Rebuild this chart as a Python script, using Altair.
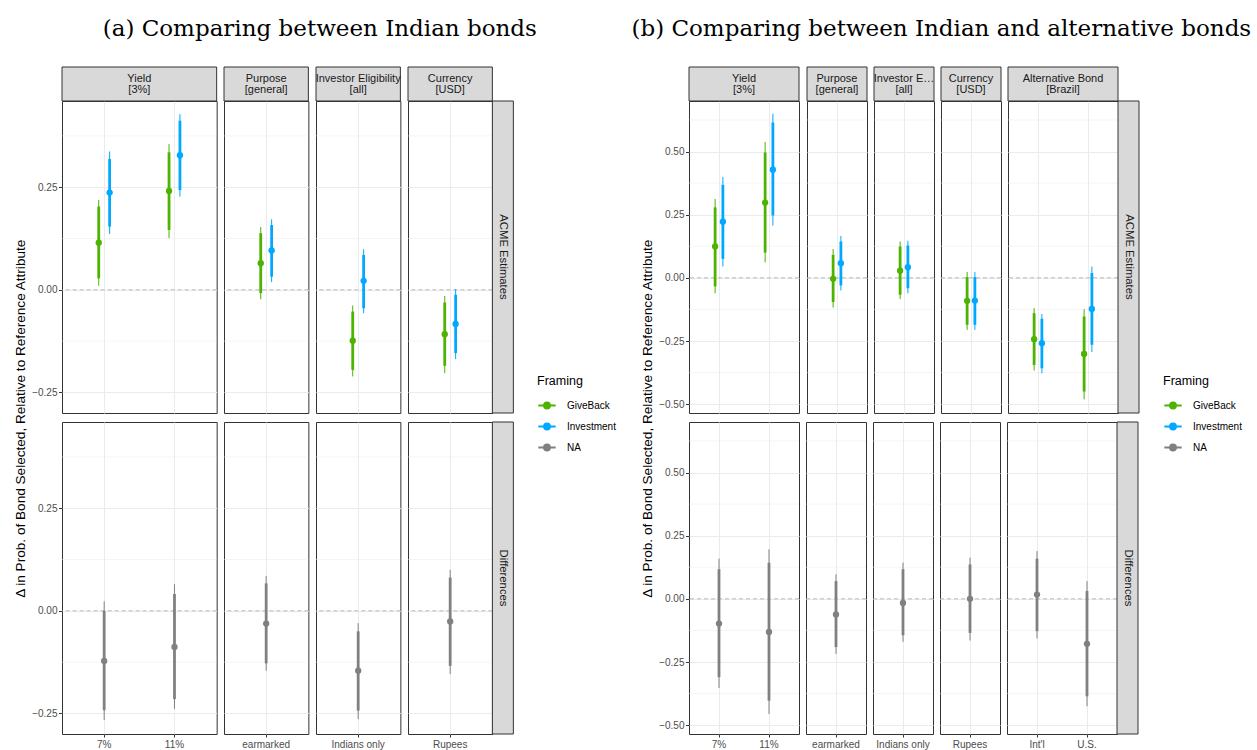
import altair as alt
import pandas as pd

# ------------------------------------------------------------------ data
FRAMINGS = ["GiveBack", "Investment", "NA"]
FRAMING_COLORS = ["#4DB200", "#00A9FF", "#808080"]
ROW_LABELS = ["ACME Estimates", "Differences"]
Y_TITLE = "Δ in Prob. of Bond Selected, Relative to Reference Attribute"

# (a) Comparing between Indian bonds
a_title = "(a) Comparing between Indian bonds"
a_attributes = ["Yield\n[3%]", "Purpose\n[general]", "Investor Eligibility\n[all]", "Currency\n[USD]"]
a_levels = [["7%", "11%"], ["earmarked"], ["Indians only"], ["Rupees"]]
a_gb_est = [0.115, 0.241, 0.065, -0.124, -0.108]
a_gb_lo95 = [0.010, 0.126, -0.023, -0.211, -0.203]
a_gb_hi95 = [0.219, 0.355, 0.153, -0.038, -0.015]
a_gb_lo90 = [0.028, 0.146, -0.008, -0.195, -0.185]
a_gb_hi90 = [0.203, 0.335, 0.138, -0.053, -0.031]
a_inv_est = [0.237, 0.328, 0.096, 0.022, -0.083]
a_inv_lo95 = [0.136, 0.227, 0.019, -0.057, -0.169]
a_inv_hi95 = [0.337, 0.428, 0.172, 0.099, 0.002]
a_inv_lo90 = [0.154, 0.243, 0.032, -0.045, -0.154]
a_inv_hi90 = [0.319, 0.412, 0.158, 0.085, -0.012]
a_diff_est = [-0.122, -0.088, -0.031, -0.146, -0.026]
a_diff_lo95 = [-0.266, -0.239, -0.146, -0.264, -0.154]
a_diff_hi95 = [0.023, 0.065, 0.085, -0.030, 0.100]
a_diff_lo90 = [-0.242, -0.215, -0.128, -0.243, -0.134]
a_diff_hi90 = [0.000, 0.041, 0.067, -0.050, 0.081]
a_y_domain = [-0.30, 0.46]
a_y_major = [-0.25, 0.0, 0.25]
a_y_minor = [-0.125, 0.125, 0.375]

# (b) Comparing between Indian and alternative bonds
b_title = "(b) Comparing between Indian and alternative bonds"
b_attributes = ["Yield\n[3%]", "Purpose\n[general]", "Investor Eligibility\n[all]",
                "Currency\n[USD]", "Alternative Bond\n[Brazil]"]
b_levels = [["7%", "11%"], ["earmarked"], ["Indians only"], ["Rupees"], ["Int'l", "U.S."]]
b_gb_est = [0.124, 0.298, -0.004, 0.028, -0.091, -0.243, -0.301]
b_gb_lo95 = [-0.061, 0.061, -0.118, -0.084, -0.206, -0.367, -0.481]
b_gb_hi95 = [0.312, 0.538, 0.114, 0.144, 0.023, -0.120, -0.124]
b_gb_lo90 = [-0.034, 0.100, -0.096, -0.067, -0.186, -0.345, -0.450]
b_gb_hi90 = [0.279, 0.496, 0.091, 0.124, 0.003, -0.140, -0.153]
b_inv_est = [0.222, 0.428, 0.058, 0.042, -0.090, -0.259, -0.123]
b_inv_lo95 = [0.045, 0.207, -0.050, -0.061, -0.206, -0.378, -0.294]
b_inv_hi95 = [0.399, 0.650, 0.166, 0.147, 0.023, -0.143, 0.045]
b_inv_lo90 = [0.075, 0.247, -0.030, -0.041, -0.186, -0.358, -0.265]
b_inv_hi90 = [0.368, 0.615, 0.144, 0.128, 0.003, -0.162, 0.019]
b_diff_est = [-0.098, -0.131, -0.062, -0.016, 0.000, 0.017, -0.178]
b_diff_lo95 = [-0.353, -0.456, -0.218, -0.170, -0.165, -0.157, -0.425]
b_diff_hi95 = [0.159, 0.196, 0.097, 0.143, 0.163, 0.189, 0.070]
b_diff_lo90 = [-0.310, -0.403, -0.191, -0.144, -0.135, -0.128, -0.386]
b_diff_hi90 = [0.117, 0.143, 0.070, 0.117, 0.136, 0.159, 0.031]
b_y_domain = [-0.535, 0.70]
b_y_major = [-0.50, -0.25, 0.0, 0.25, 0.50]
b_y_minor = [-0.375, -0.125, 0.125, 0.375, 0.625]

# ------------------------------------------------------------------ style
FONT = "Liberation Sans"
SERIF = "DejaVu Serif"
GRID = "#EBEBEB"
BORDER = "#333333"
STRIP_FILL = "#D9D9D9"
STRIP_H = 34
ROW_STRIP_W = 21
PANEL_H = 312
GAP_X = 5
GAP_Y = 7
DODGE = 0.155  # dodge separation as a fraction of one category step
LEG_PATH = ("M-1,0L1,0M-0.34,0A0.34,0.34,0,1,1,0.34,0A0.34,0.34,0,1,1,-0.34,0Z")


def build_frame(attributes, levels, series):
    flat = [(attr, lev) for attr, levs in zip(attributes, levels) for lev in levs]
    rows = []
    for row_label, framing, est, lo95, hi95, lo90, hi90 in series:
        for (attr, lev), e, l95, h95, l90, h90 in zip(flat, est, lo95, hi95, lo90, hi90):
            rows.append(dict(attr=attr, level=lev, row=row_label, Framing=framing,
                             est=e, lo95=l95, hi95=h95, lo90=l90, hi90=h90))
    return pd.DataFrame(rows)


def color_enc(legend_pos):
    return alt.Color(
        "Framing:N",
        scale=alt.Scale(domain=FRAMINGS, range=FRAMING_COLORS),
        legend=alt.Legend(
            title="Framing", orient="none", legendX=legend_pos[0], legendY=legend_pos[1],
            symbolType=LEG_PATH, symbolSize=300, symbolStrokeWidth=2,
            titleFont=FONT, titleFontSize=12.5, titleFontWeight="normal", titleColor="black",
            labelFont=FONT, labelFontSize=10, labelColor="black", labelOffset=10,
            rowPadding=4, titlePadding=8,
        ),
    )


def panel(df, attr, levels, row, unit, ydom, ymajor, yminor, first, last, legend_pos):
    w = unit * (len(levels) + 0.2)
    d = df[(df.attr == attr) & (df.row == row)]
    acme = row == ROW_LABELS[0]
    xaxis = alt.Axis(title=None, domain=False, grid=True, gridColor=GRID, gridWidth=1,
                     bandPosition=0.5, labels=not acme, ticks=not acme, labelAngle=0,
                     labelFont=FONT, labelFontSize=10, labelColor="#4D4D4D", tickSize=3,
                     tickColor=BORDER, labelPadding=2, minExtent=0)
    if first:
        yaxis = alt.Axis(title=None, values=ymajor, format=".2f", domain=False, grid=True,
                         gridColor=GRID, gridWidth=1, labelFont=FONT, labelFontSize=10,
                         labelColor="#4D4D4D", tickSize=3.5, tickColor=BORDER, labelPadding=1.5,
                         minExtent=0)
    else:
        yaxis = alt.Axis(title=None, values=ymajor, domain=False, grid=True, gridColor=GRID,
                         gridWidth=1, labels=False, ticks=False, minExtent=0, maxExtent=0)
    yscale = alt.Scale(domain=ydom, nice=False, zero=False)
    enc = dict(
        x=alt.X("level:N", sort=levels, title=None,
                scale=alt.Scale(domain=levels, paddingInner=0, paddingOuter=0.1), axis=xaxis),
        color=color_enc(legend_pos),
    )
    if acme:
        enc["xOffset"] = alt.XOffset(
            "Framing:N",
            scale=alt.Scale(domain=FRAMINGS[:2], paddingInner=0, paddingOuter=0,
                            range=[unit * (0.5 - DODGE), unit * (0.5 + DODGE)]))
    base = alt.Chart(d).encode(**enc)
    minor = alt.Chart(pd.DataFrame({"v": yminor})).mark_rule(color=GRID, strokeWidth=0.5).encode(
        y=alt.Y("v:Q", scale=yscale, axis=yaxis, title=None))
    zero = alt.Chart(pd.DataFrame({"v": [0.0]})).mark_rule(
        color="#A8A8A8", strokeDash=[4, 3], strokeWidth=0.8).encode(y=alt.Y("v:Q", title=None))
    ci95 = base.mark_rule(strokeWidth=1).encode(y=alt.Y("lo95:Q", title=None), y2="hi95:Q")
    ci90 = base.mark_rule(strokeWidth=2.8).encode(y=alt.Y("lo90:Q", title=None), y2="hi90:Q")
    pts = base.mark_point(filled=True, size=40, opacity=1).encode(y=alt.Y("est:Q", title=None))
    layers = [minor, zero, ci95, ci90, pts]
    if acme:
        lab = pd.DataFrame({"label": [attr]})
        layers.append(alt.Chart(lab).mark_rect(fill=STRIP_FILL, stroke=BORDER, strokeWidth=1).encode(
            x=alt.value(0), x2=alt.value(w), y=alt.value(-STRIP_H), y2=alt.value(0)))
        layers.append(alt.Chart(lab).mark_text(lineBreak="\n", lineHeight=11, font=FONT, fontSize=11,
                                               color="#1A1A1A", limit=w + 1, ellipsis="").encode(
            text="label:N", x=alt.value(w / 2), y=alt.value(-STRIP_H / 2 - 5.5)))
    if last:
        lab = pd.DataFrame({"label": [row]})
        layers.append(alt.Chart(lab).mark_rect(fill=STRIP_FILL, stroke=BORDER, strokeWidth=1).encode(
            x=alt.value(w), x2=alt.value(w + ROW_STRIP_W), y=alt.value(0), y2=alt.value(PANEL_H)))
        layers.append(alt.Chart(lab).mark_text(angle=90, font=FONT, fontSize=11.3, color="#1A1A1A").encode(
            text="label:N", x=alt.value(w + ROW_STRIP_W / 2), y=alt.value(PANEL_H / 2)))
    return alt.layer(*layers).properties(width=w, height=PANEL_H)


def figure(title, df, attributes, levels, unit, ydom, ymajor, yminor, legend_pos, title_dx):
    rows = []
    for row in ROW_LABELS:
        panels = [panel(df, attr, levs, row, unit, ydom, ymajor, yminor, j == 0,
                        j == len(attributes) - 1, legend_pos)
                  for j, (attr, levs) in enumerate(zip(attributes, levels))]
        rows.append(alt.hconcat(*panels, spacing=GAP_X).resolve_scale(
            x="independent", y="independent", xOffset="independent", color="shared"))
    grid = alt.vconcat(*rows, spacing=GAP_Y, title=alt.Title(
        Y_TITLE, orient="left", anchor="middle", font=FONT, fontSize=13.6, fontWeight="normal",
        color="black", offset=4, dx=-11)).resolve_scale(
        x="independent", y="independent", xOffset="independent", color="shared")
    return alt.vconcat(grid, title=alt.Title(
        title, font=SERIF, fontSize=23, fontWeight="normal", color="black", anchor="middle",
        frame="bounds", offset=25, dx=title_dx)).resolve_scale(
        x="independent", y="independent", xOffset="independent", color="shared")


a_df = build_frame(a_attributes, a_levels, [
    (ROW_LABELS[0], "GiveBack", a_gb_est, a_gb_lo95, a_gb_hi95, a_gb_lo90, a_gb_hi90),
    (ROW_LABELS[0], "Investment", a_inv_est, a_inv_lo95, a_inv_hi95, a_inv_lo90, a_inv_hi90),
    (ROW_LABELS[1], "NA", a_diff_est, a_diff_lo95, a_diff_hi95, a_diff_lo90, a_diff_hi90),
])
b_df = build_frame(b_attributes, b_levels, [
    (ROW_LABELS[0], "GiveBack", b_gb_est, b_gb_lo95, b_gb_hi95, b_gb_lo90, b_gb_hi90),
    (ROW_LABELS[0], "Investment", b_inv_est, b_inv_lo95, b_inv_hi95, b_inv_lo90, b_inv_hi90),
    (ROW_LABELS[1], "NA", b_diff_est, b_diff_lo95, b_diff_hi95, b_diff_lo90, b_diff_hi90),
])

fig_a = figure(a_title, a_df, a_attributes, a_levels, 70.3, a_y_domain, a_y_major, a_y_minor,
               (475, 274), 5)
fig_b = figure(b_title, b_df, b_attributes, b_levels, 50.0, b_y_domain, b_y_major, b_y_minor,
               (474, 274), 0)

chart = alt.hconcat(fig_a, fig_b, spacing=15).resolve_scale(
    x="independent", y="independent", xOffset="independent", color="independent"
).resolve_legend(color="independent").properties(
    padding={"left": 13, "top": 18, "right": 0, "bottom": 0}, background="white"
).configure(font=FONT, view=alt.ViewConfig(stroke=BORDER, strokeWidth=1))

chart.save("out.html", embed_options={"renderer": "svg", "actions": False})
